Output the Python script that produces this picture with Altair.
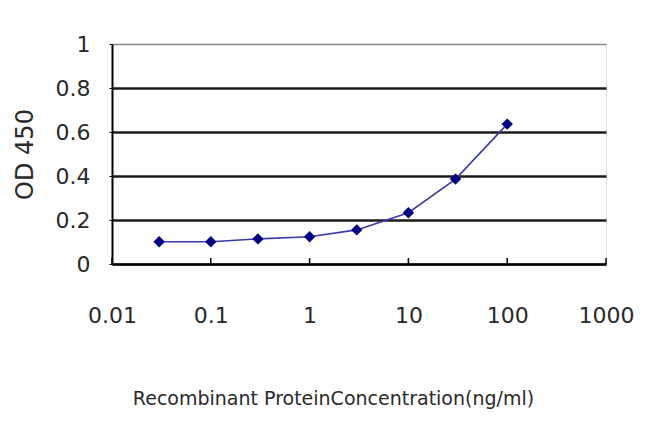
import altair as alt
import pandas as pd

# Concentration (ng/ml) and OD 450 readings
concentration = [0.03, 0.1, 0.3, 1, 3, 10, 30, 100]
od450 = [0.101, 0.101, 0.114, 0.124, 0.155, 0.233, 0.386, 0.636]

x_ticks = [0.01, 0.1, 1, 10, 100, 1000]
y_ticks = [0, 0.2, 0.4, 0.6, 0.8, 1]

data = pd.DataFrame({"conc": concentration, "od": od450})
ticks = pd.DataFrame({"t": x_ticks})

font = "DejaVu Sans"

x_enc = alt.X(
    "conc:Q",
    scale=alt.Scale(type="log", domain=[0.01, 1000], nice=False),
    axis=alt.Axis(
        title="Recombinant ProteinConcentration(ng/ml)",
        values=x_ticks,
        format="~g",
        grid=False,
        domainColor="#000000",
        domainWidth=2,
        ticks=False,
        labelFontSize=22,
        labelColor="#2a2a2a",
        labelPadding=41,
        labelFont=font,
        labelFlush=False,
        titleFont=font,
        titleFontSize=19,
        titleFontWeight="normal",
        titleColor="#2a2a2a",
        titlePadding=63,
        titleX=221,
    ),
)
y_enc = alt.Y(
    "od:Q",
    scale=alt.Scale(domain=[0, 1], nice=False),
    axis=alt.Axis(
        title="OD 450",
        values=y_ticks,
        format="~g",
        grid=True,
        # top edge of the plot stays the grey frame, inner lines are black
        gridColor=alt.condition("datum.value >= 1", alt.value("#8a8a8a"), alt.value("#1a1a1a")),
        gridWidth=alt.condition("datum.value >= 1", alt.value(1.5), alt.value(2.4)),
        domainColor="#000000",
        domainWidth=2,
        tickColor="#000000",
        tickSize=3,
        labelFontSize=22,
        labelColor="#2a2a2a",
        labelPadding=19,
        labelFont=font,
        labelFlush=False,
        titleFont=font,
        titleFontSize=24,
        titleFontWeight="normal",
        titleColor="#2a2a2a",
        titlePadding=18,
    ),
)

# small inward tick marks on the x axis
inner_ticks = alt.Chart(ticks).mark_rule(color="#000000", strokeWidth=1.5).encode(
    x=alt.X("t:Q", scale=alt.Scale(type="log", domain=[0.01, 1000], nice=False)),
    y=alt.value(220),
    y2=alt.value(214),
)

line = alt.Chart(data).mark_line(color="#3a3aaa", strokeWidth=1.6).encode(x=x_enc, y=y_enc)
points = alt.Chart(data).mark_point(
    shape="diamond", filled=True, color="#000080", size=130, opacity=1
).encode(x="conc:Q", y="od:Q")

chart = (line + inner_ticks + points).properties(
    width=494,
    height=220,
    autosize=alt.AutoSizeParams(type="none"),
    padding={"left": 104, "top": 36, "right": 36, "bottom": 160},
).configure_view(
    stroke="#888888",
    strokeWidth=1.5,
).configure(background="#ffffff")

chart.save("out.html", embed_options={"renderer": "svg", "actions": False})
